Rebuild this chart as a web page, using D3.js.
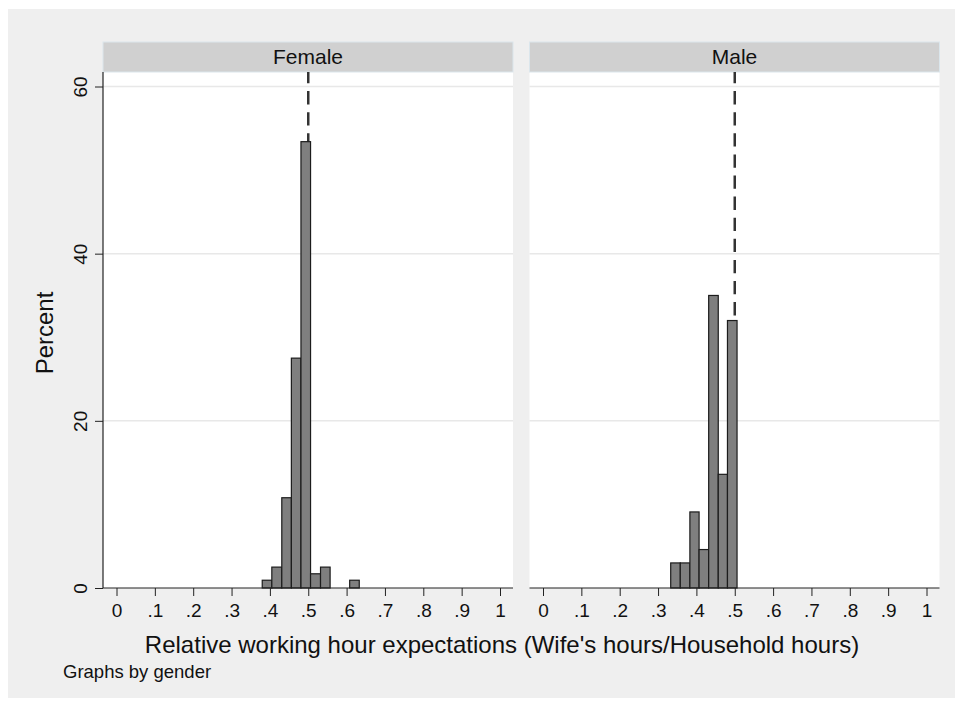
<!DOCTYPE html>
<html>
<head>
<meta charset="utf-8">
<script src="https://cdn.jsdelivr.net/npm/d3@7"></script>
<style>
  body { margin: 0; background: #fff; }
  text { font-family: "Liberation Sans", Arial, Helvetica, sans-serif; fill: #111; }
</style>
</head>
<body>
<div id="chart"></div>
<script>
// histogram bins (bin edges + percent per bin)
let femaleEdges = [0.380, 0.405, 0.431, 0.456, 0.481, 0.506, 0.532, 0.557, 0.582, 0.608, 0.633];
let femalePct = [0.93, 2.5, 10.8, 27.5, 53.4, 1.7, 2.5, 0, 0, 0.93];

let maleEdges = [0.333, 0.358, 0.383, 0.407, 0.432, 0.457, 0.481, 0.506];
let malePct = [3.0, 3.0, 9.1, 4.6, 35.0, 13.6, 32.0];

let xTickValues = [0, 0.1, 0.2, 0.3, 0.4, 0.5, 0.6, 0.7, 0.8, 0.9, 1];
let xTickLabels = ["0", ".1", ".2", ".3", ".4", ".5", ".6", ".7", ".8", ".9", "1"];
let yTickValues = [0, 20, 40, 60];
let refLine = 0.5;

let panels = [
  { name: "Female", edges: femaleEdges, pct: femalePct, left: 103, yAxis: true },
  { name: "Male", edges: maleEdges, pct: malePct, left: 529.5, yAxis: false }
];

let W = 963, H = 706;
let plotW = 410;
let plotTop = 72, plotBottom = 588;
let headerTop = 42;

let svg = d3.select('#chart')
  .append('svg')
  .attr('width', W)
  .attr('height', H);

// outer grey background
svg.append('rect')
  .attr('x', 8).attr('y', 9)
  .attr('width', 947).attr('height', 689)
  .attr('fill', '#efefef');

let yScale = d3.scaleLinear()
  .domain([0, 60])
  .range([plotBottom, 86.5]);

panels.forEach(function (p) {
  let g = svg.append('g').attr('class', 'panel');

  let xScale = d3.scaleLinear()
    .domain([0, 1])
    .range([p.left + 13.5, p.left + 13.5 + 383.5]);

  // plot region
  g.append('rect')
    .attr('x', p.left).attr('y', plotTop)
    .attr('width', plotW).attr('height', plotBottom - plotTop)
    .attr('fill', '#fff');

  // header strip
  g.append('rect')
    .attr('x', p.left).attr('y', headerTop)
    .attr('width', plotW).attr('height', plotTop - headerTop)
    .attr('fill', '#d0d0d0')
    .attr('stroke', '#dbe6ec')
    .attr('stroke-width', 1);
  g.append('text')
    .attr('x', p.left + plotW / 2)
    .attr('y', 64)
    .attr('text-anchor', 'middle')
    .style('font-size', '21px')
    .text(p.name);

  // gridlines
  g.append('g').attr('class', 'grid')
    .selectAll('line')
    .data(yTickValues.filter(d => d > 0))
    .join('line')
    .attr('x1', p.left).attr('x2', p.left + plotW)
    .attr('y1', d => yScale(d)).attr('y2', d => yScale(d))
    .attr('stroke', '#e8e8e8')
    .attr('stroke-width', 1.5);

  // dashed reference line (behind bars)
  g.append('line')
    .attr('x1', xScale(refLine)).attr('x2', xScale(refLine))
    .attr('y1', plotTop).attr('y2', plotBottom)
    .attr('stroke', '#333')
    .attr('stroke-width', 2.5)
    .attr('stroke-dasharray', '13.3,7.8')
    .attr('stroke-dashoffset', 2);

  // bars
  let bins = p.pct.map((v, i) => ({ x0: p.edges[i], x1: p.edges[i + 1], v: v }))
    .filter(d => d.v > 0);
  g.append('g').attr('class', 'bars')
    .selectAll('rect')
    .data(bins)
    .join('rect')
    .attr('x', d => xScale(d.x0))
    .attr('width', d => xScale(d.x1) - xScale(d.x0))
    .attr('y', d => yScale(d.v))
    .attr('height', d => yScale(0) - yScale(d.v))
    .attr('fill', '#7f7f7f')
    .attr('stroke', '#1c1c1c')
    .attr('stroke-width', 1.2);

  // x axis
  let xAxis = d3.axisBottom(xScale)
    .tickValues(xTickValues)
    .tickFormat((d, i) => xTickLabels[i])
    .tickSize(8)
    .tickPadding(8);
  let gx = g.append('g')
    .attr('class', 'x-axis')
    .attr('transform', `translate(0, ${plotBottom})`)
    .call(xAxis);
  gx.select('.domain').remove();
  gx.selectAll('line').attr('stroke', '#222');
  gx.selectAll('text').style('font-size', '19px').attr('fill', '#111');
  g.append('line')
    .attr('x1', p.left).attr('x2', p.left + plotW)
    .attr('y1', plotBottom).attr('y2', plotBottom)
    .attr('stroke', '#222').attr('stroke-width', 1.2);

  // y axis only on first panel
  if (p.yAxis) {
    let yAxis = d3.axisLeft(yScale)
      .tickValues(yTickValues)
      .tickSize(8);
    let gy = g.append('g')
      .attr('class', 'y-axis')
      .attr('transform', `translate(${p.left}, 0)`)
      .call(yAxis);
    gy.select('.domain').remove();
    gy.selectAll('line').attr('stroke', '#222');
    gy.selectAll('text')
      .attr('x', 0)
      .attr('y', -15.7)
      .attr('dy', 0)
      .attr('transform', 'rotate(-90)')
      .attr('text-anchor', 'middle')
      .attr('fill', '#111')
      .style('font-size', '19px');
    g.append('line')
      .attr('x1', p.left).attr('x2', p.left)
      .attr('y1', plotTop).attr('y2', plotBottom)
      .attr('stroke', '#222').attr('stroke-width', 1.2);
  }
});

// axis titles
svg.append('text')
  .attr('transform', 'translate(53.3, 333) rotate(-90)')
  .attr('text-anchor', 'middle')
  .style('font-size', '24px')
  .text('Percent');

svg.append('text')
  .attr('x', 502)
  .attr('y', 653)
  .attr('text-anchor', 'middle')
  .style('font-size', '24px')
  .text("Relative working hour expectations (Wife's hours/Household hours)");

svg.append('text')
  .attr('x', 63)
  .attr('y', 678)
  .style('font-size', '18.5px')
  .text('Graphs by gender');
</script>
</body>
</html>
